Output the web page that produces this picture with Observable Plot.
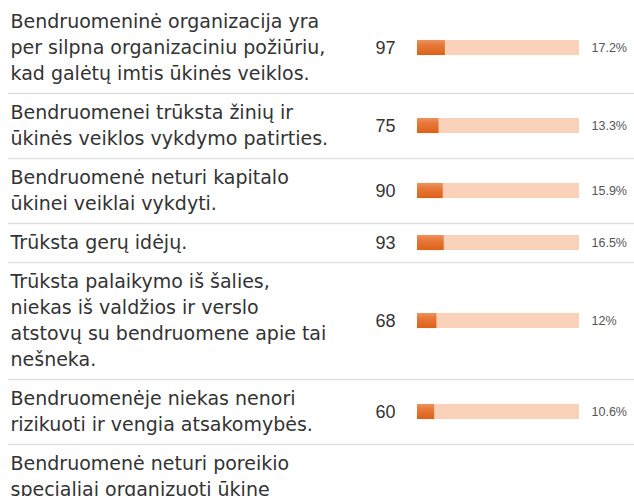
<!DOCTYPE html>
<html>
<head>
<meta charset="utf-8">
<script src="https://cdn.jsdelivr.net/npm/d3@7"></script>
<script src="https://cdn.jsdelivr.net/npm/@observablehq/plot@0.6"></script>
<style>
  html, body { margin: 0; padding: 0; background: #fff; }
  #chart svg { display: block; }
</style>
</head>
<body>
<div id="chart"></div>
<script>
// Answer options (each inner array = wrapped lines as shown)
const answers = [
  ["Bendruomeninė organizacija yra", "per silpna organizaciniu požiūriu,", "kad galėtų imtis ūkinės veiklos."],
  ["Bendruomenei trūksta žinių ir", "ūkinės veiklos vykdymo patirties."],
  ["Bendruomenė neturi kapitalo", "ūkinei veiklai vykdyti."],
  ["Trūksta gerų idėjų."],
  ["Trūksta palaikymo iš šalies,", "niekas iš valdžios ir verslo", "atstovų su bendruomene apie tai", "nešneka."],
  ["Bendruomenėje niekas nenori", "rizikuoti ir vengia atsakomybės."],
  ["Bendruomenė neturi poreikio", "specialiai organizuoti ūkinę", "veiklą."]
];
const counts = [97, 75, 90, 93, 68, 60, null];
const percents = [17.2, 13.3, 15.9, 16.5, 12, 10.6, null];
const percentLabels = ["17.2%", "13.3%", "15.9%", "16.5%", "12%", "10.6%", null];

// Layout in "line units": each row = its lines + padding
const PAD = 0.5;
let acc = 0;
const rows = answers.map((lines, i) => {
  const start = acc;
  const h = lines.length + PAD;
  acc += h;
  return {i, lines, start, end: start + h, mid: start + h / 2,
          count: counts[i], pct: percents[i], pctLabel: percentLabels[i]};
});
const lineData = rows.flatMap(r => r.lines.map((t, k) => ({text: t, y: r.start + PAD / 2 + 0.5 + k})));
const barRows = rows.filter(r => r.count != null);
const separators = rows.slice(0, -1).map(r => r.end);

const BAR_HALF = 0.29;
const LINE_PX = 26;
const H = 496;

const gradientDefs = () => {
  const defs = d3.create("svg:defs");
  const g = defs.append("linearGradient").attr("id", "barGrad")
    .attr("x1", 0).attr("x2", 0).attr("y1", 0).attr("y2", 1);
  g.append("stop").attr("offset", "0%").attr("stop-color", "#ec9360");
  g.append("stop").attr("offset", "35%").attr("stop-color", "#e7783a");
  g.append("stop").attr("offset", "100%").attr("stop-color", "#dd6118");
  return defs.node();
};

const chart = Plot.plot({
  width: 634,
  height: H,
  marginTop: 0, marginBottom: 0, marginLeft: 8, marginRight: 0,
  x: {domain: [0, 100], range: [417, 579], axis: null},
  y: {domain: [0, (H - 2) / LINE_PX], range: [2, H], axis: null},
  style: {fontFamily: "DejaVu Sans", background: "#fff"},
  marks: [
    gradientDefs,
    Plot.ruleY(separators, {stroke: "#e0e0e0", strokeWidth: 1.5}),
    Plot.text(lineData, {y: "y", text: "text", frameAnchor: "left", dx: 2, textAnchor: "start",
      fontSize: 19, fill: "#333", lineAnchor: "middle"}),
    Plot.rect(barRows, {x1: 0, x2: 100, y1: d => d.mid - BAR_HALF, y2: d => d.mid + BAR_HALF, fill: "#f9d2b9"}),
    Plot.rect(barRows, {x1: 0, x2: "pct", y1: d => d.mid - BAR_HALF, y2: d => d.mid + BAR_HALF, fill: "url(#barGrad)"}),
    Plot.text(barRows, {x: 0, y: "mid", text: d => String(d.count), dx: -22, textAnchor: "end",
      fontSize: 18, fill: "#333", lineAnchor: "middle", fontFamily: "Liberation Sans"}),
    Plot.text(barRows, {x: 100, y: "mid", text: "pctLabel", dx: 12, textAnchor: "start",
      fontSize: 12.5, fill: "#555", lineAnchor: "middle", fontFamily: "Liberation Sans"})
  ]
});
document.getElementById("chart").append(chart);
</script>
</body>
</html>
